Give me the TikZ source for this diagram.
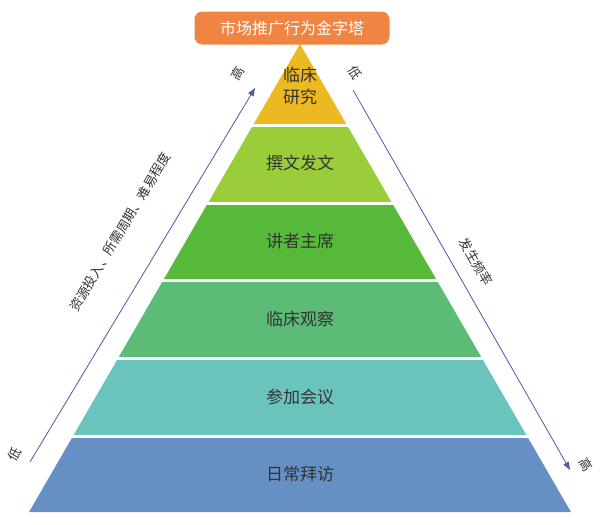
\documentclass[tikz,border=0pt]{standalone}
\usepackage{fontspec}
\newfontfamily\cjk{Noto Sans CJK SC}
\usetikzlibrary{arrows.meta}
\definecolor{c1}{HTML}{EDB921}
\definecolor{c2}{HTML}{9ACD3A}
\definecolor{c3}{HTML}{56B93A}
\definecolor{c4}{HTML}{5BBB77}
\definecolor{c5}{HTML}{6BC4BC}
\definecolor{c6}{HTML}{6690C4}
\definecolor{arr}{HTML}{4A5BA8}
\definecolor{org}{HTML}{EF8443}
\definecolor{txt}{HTML}{333333}
\begin{document}
\begin{tikzpicture}[x=1pt,y=-1pt,
  lbl/.style={font=\cjk\fontsize{17}{22}\selectfont, text=txt, align=center},
  side/.style={font=\cjk\fontsize{13}{15}\selectfont, text=txt},
  axis/.style={draw=arr, line width=0.8pt, -{Triangle[length=8pt,width=6pt]}}]
\useasboundingbox (0,0) rectangle (600,525);
\def\L#1{\fpeval{300-0.579*(#1-44)}}
\def\R#1{\fpeval{300+0.579*(#1-44)}}
\fill[c1] (300,44) -- (\L{124},124) -- (\R{124},124) -- cycle;
\foreach \a/\b/\c in {127/202/c2, 205/279/c3, 282/357/c4, 360/435/c5, 438/512/c6}{
  \fill[\c] (\L{\a},\a) -- (\L{\b},\b) -- (\R{\b},\b) -- (\R{\a},\a) -- cycle;
}
\node[lbl] (n1) at (300,86) {临床\\研究};
\node[lbl] (n2) at (300,163) {撰文发文};
\node[lbl] (n3) at (300,241) {讲者主席};
\node[lbl] (n4) at (300,319) {临床观察};
\node[lbl] (n5) at (300,397) {参加会议};
\node[lbl] (n6) at (300,474) {日常拜访};
\node[fill=org, rounded corners=8pt, minimum width=195pt, minimum height=33pt,
  font=\cjk\fontsize{16}{20}\selectfont, text=white] (t) at (292,28) {市场推广行为金字塔};
\coordinate (la) at (30,462); \coordinate (lb) at (255,88);
\coordinate (ra) at (353,90); \coordinate (rb) at (570,470);
\draw[axis] (la) -- (lb);
\draw[axis] (ra) -- (rb);
\node[side, rotate=59] (l1) at (15,454) {低};
\node[side, rotate=59] (l2) at (238,73) {高};
\node[side, rotate=59] (l3) at (120,232) {资源投入、所需周期、难易程度};
\node[side, rotate=-60] (r1) at (355,73) {低};
\node[side, rotate=-60] (r2) at (586,465) {高};
\node[side, rotate=-60] (r3) at (476,262) {发生频率};
\end{tikzpicture}
\end{document}
